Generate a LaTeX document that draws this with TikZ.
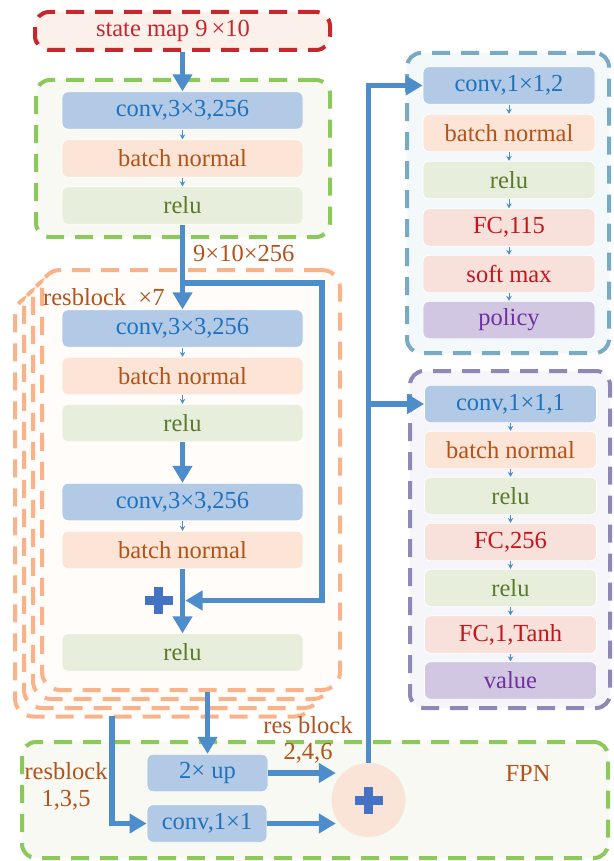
\documentclass[tikz,border=0pt]{standalone}
\usepackage{fontspec}
\setmainfont{Liberation Serif}
\usetikzlibrary{arrows.meta}

\definecolor{arrowblue}{HTML}{4E8DCB}
\definecolor{convfill}{HTML}{B3CAE6}
\definecolor{convtext}{HTML}{1F72BD}
\definecolor{bnfill}{HTML}{FCE4D6}
\definecolor{bntext}{HTML}{B3531A}
\definecolor{relufill}{HTML}{E7EEDB}
\definecolor{relutext}{HTML}{5B7A2C}
\definecolor{fcfill}{HTML}{F7E1DA}
\definecolor{fctext}{HTML}{C4161C}
\definecolor{outfill}{HTML}{D1C7E2}
\definecolor{outtext}{HTML}{7030A0}
\definecolor{labeltext}{HTML}{B4521B}
\definecolor{redline}{HTML}{C4282E}
\definecolor{redfill}{HTML}{FCF0EB}
\definecolor{greenline}{HTML}{8CC85A}
\definecolor{greenfill}{HTML}{F7F9F2}
\definecolor{orangeline}{HTML}{F9B38B}
\definecolor{orangefill}{HTML}{FFFCFA}
\definecolor{tealline}{HTML}{79AAC4}
\definecolor{tealfill}{HTML}{F3F8FB}
\definecolor{purpleline}{HTML}{8D88B6}
\definecolor{purplefill}{HTML}{F5F5FA}
\definecolor{plusblue}{HTML}{4472C4}
\definecolor{sumfill}{HTML}{F9E4D7}

\tikzset{
  txt/.style={font=\fontsize{24.5}{26.5}\selectfont},
  layer/.style={txt, rounded corners=6pt, inner sep=0pt, minimum height=37.5pt,
                draw=white, line width=0.8pt},
  wide/.style={minimum width=241pt},
  narrow/.style={minimum width=172pt},
  conv/.style={layer, fill=convfill, text=convtext},
  bn/.style={layer, fill=bnfill, text=bntext},
  relu/.style={layer, fill=relufill, text=relutext},
  fc/.style={layer, fill=fcfill, text=fctext},
  outp/.style={layer, fill=outfill, text=outtext},
  frame/.style={rounded corners=14pt, line width=4pt, inner sep=0pt,
                dash pattern=on 18pt off 11pt},
  resframe/.style={frame, rounded corners=18pt, draw=orangeline, fill=orangefill,
                   minimum width=298pt, minimum height=420pt},
  lbl/.style={txt, text=labeltext, inner sep=0pt},
  flow/.style={draw=arrowblue, line width=5.5pt, -{Triangle[length=17pt,width=19pt]}},
  tick/.style={draw=arrowblue, line width=0.9pt, -{Stealth[length=5pt,width=5.5pt]}},
}

% bold plus mark centred on a named coordinate
\newcommand\plusmark[1]{%
  \fill[plusblue] ([xshift=-14pt,yshift=-4.5pt]#1) rectangle ([xshift=14pt,yshift=4.5pt]#1);
  \fill[plusblue] ([xshift=-4.5pt,yshift=-13.5pt]#1) rectangle ([xshift=4.5pt,yshift=13.5pt]#1);
}

\begin{document}
\begin{tikzpicture}[x=1pt,y=-1pt]
\useasboundingbox (0,0) rectangle (613,861);

% input
\node[frame, draw=redline, fill=redfill, minimum width=295pt, minimum height=38pt,
      txt, text=redline] (state) at (182.5,31) {state map 9\,×10\hspace*{19pt}};

% stem block
\node[frame, draw=greenline, fill=greenfill, minimum width=294pt, minimum height=157pt]
      (stem) at (183,158.5) {};
\node[conv, wide] (sc) at (182.5,110.5) {conv,3×3,256};
\node[bn, wide]   (sb) at (182.5,158.5) {batch normal};
\node[relu, wide] (sr) at (182.5,205.5) {relu};

% stacked residual blocks (back to front)
\node[resframe] (res3) at (164,506.5) {};
\node[resframe] (res2) at (173,498) {};
\node[resframe] (res1) at (182,489) {};
\node[resframe] (res0) at (191,480) {};

\node[lbl, anchor=west] (dims) at (193,253) {9×10×256};
\node[lbl, anchor=west] (reps) at (43,297) {resblock\ \ ×7};

\node[conv, wide] (rc1) at (182.5,328.5) {conv,3×3,256};
\node[bn, wide]   (rb1) at (182.5,376) {batch normal};
\node[relu, wide] (rr1) at (182.5,423) {relu};
\node[conv, wide] (rc2) at (182.5,502) {conv,3×3,256};
\node[bn, wide]   (rb2) at (182.5,550) {batch normal};
\node[relu, wide] (rr2) at (182.5,652.5) {relu};

% policy head
\node[frame, draw=tealline, fill=tealfill, minimum width=202pt, minimum height=300pt]
      (phead) at (508,203) {};
\node[conv, narrow] (pc1) at (509,85.5)  {conv,1×1,2};
\node[bn, narrow]   (pb)  at (509,133)   {batch normal};
\node[relu, narrow] (pr)  at (509,180)   {relu};
\node[fc, narrow]   (pf)  at (509,227.5) {FC,115};
\node[fc, narrow]   (ps)  at (509,274)   {soft max};
\node[outp, narrow] (pp)  at (509,320)   {policy};

% value head
\node[frame, draw=purpleline, fill=purplefill, minimum width=200pt, minimum height=337pt]
      (vhead) at (510,539.5) {};
\node[conv, narrow] (vc1) at (510.5,404)   {conv,1×1,1};
\node[bn, narrow]   (vb)  at (510.5,450)   {batch normal};
\node[relu, narrow] (vr)  at (510.5,496)   {relu};
\node[fc, narrow]   (vf)  at (510.5,542)   {FC,256};
\node[relu, narrow] (vr2) at (510.5,588)   {relu};
\node[fc, narrow]   (vt)  at (510.5,634.5) {FC,1,Tanh};
\node[outp, narrow] (vv)  at (510.5,680.5) {value};

% feature pyramid merge
\node[frame, draw=greenline, fill=greenfill, minimum width=586pt, minimum height=116pt]
      (fpn) at (315,800) {};
\node[lbl] (fpnname) at (528,773) {FPN};
\node[lbl, align=center] (oddlbl)  at (66,786.5) {resblock\\1,3,5};
\node[lbl, align=center] (evenlbl) at (308,740)  {res block\\2,4,6};
\node[conv, minimum width=121pt] (up2) at (207.5,773)   {2×\ up};
\node[conv, minimum width=120pt] (c11) at (207,823.5)   {conv,1×1};
\node[circle, fill=sumfill, minimum size=74pt, inner sep=0pt] (sum) at (368.5,800) {};
\plusmark{sum.center}

% tap points
\coordinate (split) at (182.5,283);
\coordinate (skipcorner) at (322,283);
\coordinate (addin) at (185.5,600.5);
\coordinate (addmark) at (158.5,600.5);
\coordinate (lowtap) at (112,716);

% small arrows inside blocks
\foreach \a/\b in {sc/sb, sb/sr, rc1/rb1, rb1/rr1, rc2/rb2,
                   pc1/pb, pb/pr, pr/pf, pf/ps, ps/pp,
                   vc1/vb, vb/vr, vr/vf, vf/vr2, vr2/vt, vt/vv}
  \draw[tick] (\a.south) -- (\b.north);

% main data flow
\draw[flow] (state.south) -- (sc.north);
\draw[flow] (sr.south) -- (rc1.north);
\draw[flow] (rr1.south) -- (rc2.north);
\draw[flow] (rb2.south) -- (rr2.north);
\draw[flow] (split) -- (skipcorner) |- (addin);
\plusmark{addmark}

\draw[flow] (up2.north |- res0.south) -- (up2.north);
\draw[flow] (lowtap) |- (c11.west);
\draw[flow, shorten >=-4.5pt] (up2.east) -- (up2.east -| sum.west);
\draw[flow, shorten >=-4.5pt] (c11.east) -- (c11.east -| sum.west);
\draw[flow] (sum.north) |- (pc1.west);
\draw[flow] (sum.north |- vc1.west) -- (vc1.west);
\end{tikzpicture}
\end{document}
